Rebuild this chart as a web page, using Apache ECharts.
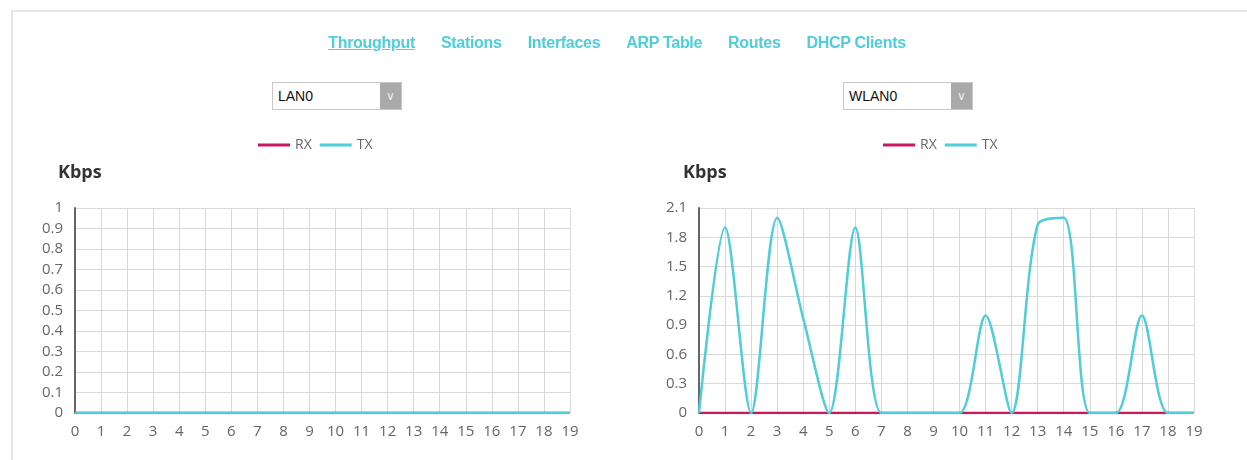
<!DOCTYPE html>
<html>
<head>
<meta charset="utf-8">
<script src="https://cdn.jsdelivr.net/npm/echarts@6/dist/echarts.min.js"></script>
<style>
    body { margin: 0; background: #fff; font-family: "Liberation Sans", Arial, sans-serif; }
    #frame { position: absolute; left: 11px; top: 10px; width: 1236px; height: 450px;
        border-top: 2px solid #e6e6e6; border-left: 2px solid #e6e6e6; }
    #nav { position: absolute; left: 0; top: 34px; width: 1234px; text-align: center;
        font-size: 16px; font-weight: bold; letter-spacing: -0.3px; }
    #nav a { color: #4fcdd9; text-decoration: none; margin: 0 13px; }
    #nav a.active { text-decoration: underline; }
    .sel { position: absolute; top: 82px; height: 26px; border: 1px solid #c8c8c8;
        background: #fff; font-size: 14px; color: #111; line-height: 26px; }
    .sel span { padding-left: 5px; }
    .sel i { position: absolute; right: 0; top: 0; width: 21px; height: 26px; background: #a9a9a9;
        color: #eee; font-style: normal; text-align: center; font-size: 12px; }
    #chart { position: absolute; left: 0; top: 0; width: 1247px; height: 460px; }
</style>
</head>
<body>
<div id="chart"></div>
<div id="frame"></div>
<div id="nav">
    <a class="active">Throughput</a><a>Stations</a><a>Interfaces</a><a>ARP Table</a><a>Routes</a><a>DHCP Clients</a>
</div>
<div class="sel" style="left:272px;width:128px;"><span>LAN0</span><i>&#8744;</i></div>
<div class="sel" style="left:843px;width:128px;"><span>WLAN0</span><i>&#8744;</i></div>
<script>
    // x categories 0..19
    var xLabels = ['0','1','2','3','4','5','6','7','8','9','10','11','12','13','14','15','16','17','18','19'];
    var lanRx = [0,0,0,0,0,0,0,0,0,0,0,0,0,0,0,0,0,0,0,0];
    var lanTx = [0,0,0,0,0,0,0,0,0,0,0,0,0,0,0,0,0,0,0,0];
    var wlanRx = [0,0,0,0,0,0,0,0,0,0,0,0,0,0,0,0,0,0,0,0];
    var wlanTx = [0,1.9,0,2.0,0.97,0,1.9,0,0,0,0,1.0,0,1.93,2.0,0,0,1.0,0,0];

    var rxColor = '#c8185e';
    var txColor = '#4fcdd8';
    var labelStyle = { color: '#666', fontSize: 15, fontFamily: 'Open Sans' };
    var legendText = { color: '#666', fontSize: 14, fontFamily: 'Open Sans' };
    var titleText = { fontSize: 18, fontWeight: 'bold', color: '#333', fontFamily: 'Open Sans' };

    var myChart = echarts.init(document.getElementById('chart'));

    function xAxis(idx) {
        return {
            gridIndex: idx, type: 'category', data: xLabels, boundaryGap: false,
            axisLine: { show: false }, axisTick: { show: false },
            axisLabel: Object.assign({ margin: 11, interval: 0 }, labelStyle),
            splitLine: { show: true, lineStyle: { color: '#d9d9d9' } }
        };
    }
    function yAxis(idx, max, step) {
        return {
            gridIndex: idx, type: 'value', min: 0, max: max, interval: step,
            axisLine: { show: true, lineStyle: { color: '#666', width: 2 } },
            axisTick: { show: false },
            axisLabel: Object.assign({ margin: 12 }, labelStyle),
            splitLine: { lineStyle: { color: '#d9d9d9' } }
        };
    }
    function line(name, data, color, idx) {
        return {
            name: name, type: 'line', xAxisIndex: idx, yAxisIndex: idx, data: data,
            smooth: 0.3, symbol: 'none', color: color,
            lineStyle: { width: 2.5, color: color }
        };
    }

    var option = {
        animation: false,
        title: [
            { text: 'Kbps', left: 58, top: 164, padding: 0, textStyle: titleText },
            { text: 'Kbps', left: 683, top: 164, padding: 0, textStyle: titleText }
        ],
        legend: [
            { data: ['RX', 'TX'], left: 253, top: 133, itemWidth: 32, itemHeight: 3, itemGap: 8,
              icon: 'rect', textStyle: legendText },
            { data: ['RX', 'TX'], left: 878, top: 133, itemWidth: 32, itemHeight: 3, itemGap: 8,
              icon: 'rect', textStyle: legendText }
        ],
        grid: [
            { left: 75, top: 208, width: 495, height: 205 },
            { left: 699, top: 208, width: 495, height: 205 }
        ],
        xAxis: [xAxis(0), xAxis(1)],
        yAxis: [yAxis(0, 1, 0.1), yAxis(1, 2.1, 0.3)],
        series: [
            line('RX', lanRx, rxColor, 0),
            line('TX', lanTx, txColor, 0),
            line('RX', wlanRx, rxColor, 1),
            line('TX', wlanTx, txColor, 1)
        ]
    };
    myChart.setOption(option);
</script>
</body>
</html>
